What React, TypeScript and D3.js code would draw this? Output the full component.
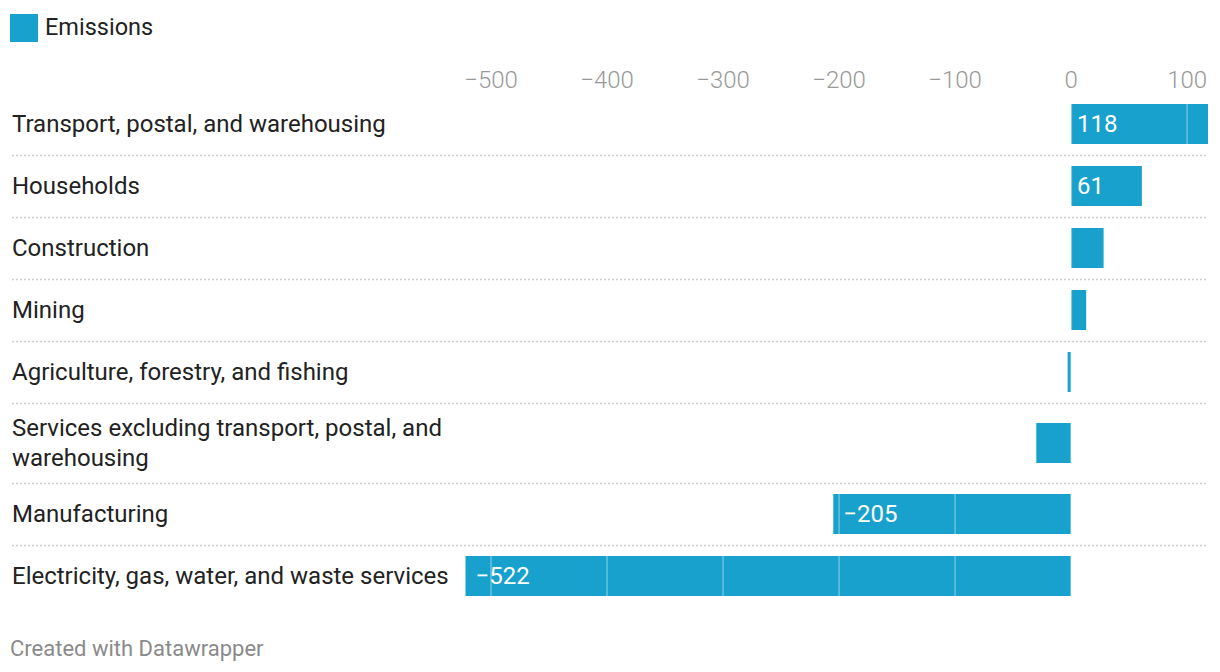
import React from "react";
import * as d3 from "d3";

const categories = [
  "Transport, postal, and warehousing",
  "Households",
  "Construction",
  "Mining",
  "Agriculture, forestry, and fishing",
  "Services excluding transport, postal, and warehousing",
  "Manufacturing",
  "Electricity, gas, water, and waste services",
];
const emissions = [118, 61, 28, 13, -3, -30, -205, -522];
const tickValues = [-500, -400, -300, -200, -100, 0, 100];
const legendLabel = "Emissions";
const footerText = "Created with Datawrapper";

const W = 1220;
const H = 672;
const BLUE = "#18a1cd";
const FONT = "Roboto, 'Noto Sans', sans-serif";
const LABEL_SIZE = 24;
const LABEL_MAX_W = 450;
const LINE_H = 30;
const BAR_H = 40;
const ROW_PAD = 22;
const FIRST_ROW_TOP = 93;

function measure(text: string, size: number, weight = 400): number {
  const c = document.createElement("canvas").getContext("2d");
  if (!c) return text.length * size * 0.5;
  c.font = `${weight} ${size}px Roboto`;
  return c.measureText(text).width;
}

function wrap(text: string, maxW: number): string[] {
  const words = text.split(" ");
  const lines: string[] = [];
  let cur = "";
  for (const w of words) {
    const t = cur ? cur + " " + w : w;
    if (measure(t, LABEL_SIZE) > maxW && cur) {
      lines.push(cur);
      cur = w;
    } else cur = t;
  }
  if (cur) lines.push(cur);
  return lines;
}

export default function App() {
  const x = d3
    .scaleLinear()
    .domain([d3.min(emissions)!, d3.max(emissions)!])
    .range([465.5, 1208]);

  const rows: { label: string[]; value: number; top: number; h: number }[] = [];
  let y = FIRST_ROW_TOP;
  categories.forEach((c, i) => {
    const lines = wrap(c, LABEL_MAX_W);
    const h = Math.max(BAR_H, lines.length * 29) + ROW_PAD;
    rows.push({ label: lines, value: emissions[i], top: y, h });
    y += h;
  });

  const fmt = (v: number) => (v < 0 ? "\u2212" + Math.abs(v) : String(v));

  return (
    <svg width={W} height={H} style={{ display: "block", margin: "-8px", fontFamily: FONT }}>
      <rect x={0} y={0} width={W} height={H} fill="#fff" />
      {/* legend */}
      <rect x={10} y={14} width={28} height={28} fill={BLUE} />
      <text x={45} y={35} fontSize={23.5} fill="#222">
        {legendLabel}
      </text>
      {/* ticks */}
      {tickValues.map((t) => (
        <text
          key={t}
          x={x(t)}
          y={88}
          fontSize={24}
          fontWeight={300}
          fill="#999"
          textAnchor="middle"
        >
          {fmt(t)}
        </text>
      ))}
      {/* rows */}
      {rows.map((r, i) => {
        const cy = r.top + r.h / 2;
        const x0 = x(Math.min(0, r.value));
        const x1 = x(Math.max(0, r.value));
        const bw = x1 - x0;
        const n = r.label.length;
        return (
          <g key={i}>
            {i > 0 && (
              <line
                x1={12}
                x2={1208}
                y1={r.top + 0.5}
                y2={r.top + 0.5}
                stroke="#cfcfcf"
                strokeWidth={1.5}
                strokeDasharray="2,2"
              />
            )}
            {r.label.map((l, j) => (
              <text
                key={j}
                x={12}
                y={cy + (j - (n - 1) / 2) * LINE_H}
                dy="0.35em"
                fontSize={LABEL_SIZE}
                fill="#222"
              >
                {l}
              </text>
            ))}
            <rect x={x0} y={cy - BAR_H / 2} width={Math.max(bw, 1)} height={BAR_H} fill={BLUE} />
            {bw > 60 && (
              <text
                x={x0 + (r.value < 0 ? 10 : 6)}
                y={cy}
                dy="0.35em"
                fontSize={LABEL_SIZE}
                fill="#fff"
              >
                {fmt(r.value)}
              </text>
            )}
          </g>
        );
      })}
      {/* gridlines over bars */}
      {tickValues.map((t) => (
        <line
          key={"g" + t}
          x1={x(t)}
          x2={x(t)}
          y1={FIRST_ROW_TOP}
          y2={y}
          stroke="#fff"
          strokeOpacity={0.4}
          strokeWidth={t === 0 ? 2 : 1.3}
        />
      ))}
      <text x={10} y={656} fontSize={22} fill="#8a8a8a">
        {footerText}
      </text>
    </svg>
  );
}
